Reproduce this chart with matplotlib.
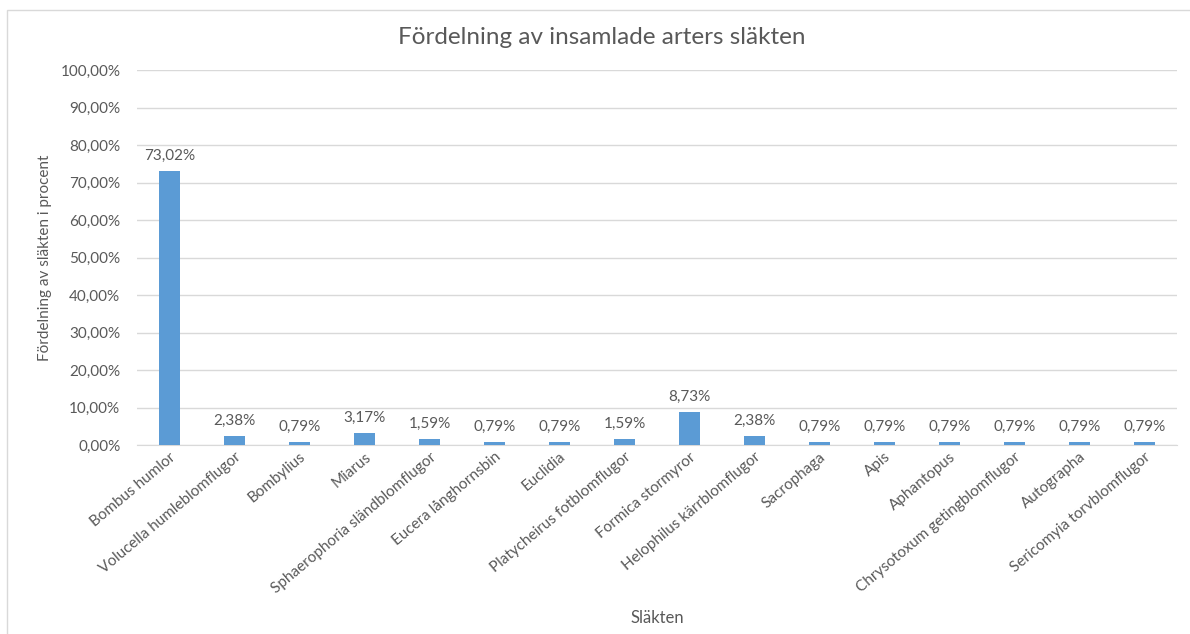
"""Bar chart: distribution of collected genera (Excel-style look)."""
import matplotlib
matplotlib.use("Agg")
import matplotlib.pyplot as plt
from matplotlib.patches import Rectangle
from matplotlib.ticker import FuncFormatter, MultipleLocator

genera = [
    "Bombus humlor", "Volucella humleblomflugor", "Bombylius", "Miarus",
    "Sphaerophoria sländblomflugor", "Eucera långhornsbin", "Euclidia",
    "Platycheirus fotblomflugor", "Formica stormyror",
    "Helophilus kärrblomflugor", "Sacrophaga", "Apis", "Aphantopus",
    "Chrysotoxum getingblomflugor", "Autographa", "Sericomyia torvblomflugor",
]
shares = [73.02, 2.38, 0.79, 3.17, 1.59, 0.79, 0.79, 1.59, 8.73, 2.38,
          0.79, 0.79, 0.79, 0.79, 0.79, 0.79]

TEXT = "#595959"
GRID = "#d9d9d9"
BAR = "#5b9bd5"

plt.rcParams["font.family"] = ["Lato", "DejaVu Sans"]

fig = plt.figure(figsize=(11.9, 6.34), dpi=100)
fig.patches.append(Rectangle((7 / 1190, -0.1), 1.2, 1 - 10 / 634 + 0.1,
                             transform=fig.transFigure, fill=False,
                             edgecolor=GRID, linewidth=1.0))
ax = fig.add_axes([137 / 1190, 1 - 445 / 634, 1040 / 1190, 375 / 634])

x = range(len(genera))
vals = [v / 100 for v in shares]
ax.bar(x, vals, width=0.32, color=BAR, zorder=3)
for xi, v in zip(x, shares):
    ax.annotate(f"{v:.2f}%".replace(".", ","), (xi, v / 100),
                xytext=(0, 6), textcoords="offset points",
                ha="center", va="bottom", fontsize=11, color=TEXT)

ax.set_xlim(-0.5, len(genera) - 0.5)
ax.set_ylim(0, 1.0)
ax.yaxis.set_major_locator(MultipleLocator(0.1))
ax.yaxis.set_major_formatter(
    FuncFormatter(lambda v, _: f"{v * 100:.2f}%".replace(".", ",")))
ax.grid(axis="y", color=GRID, linewidth=1.0, zorder=0)
for side in ("top", "right", "left"):
    ax.spines[side].set_visible(False)
ax.spines["bottom"].set_color(GRID)
ax.tick_params(axis="both", length=0, colors=TEXT, labelsize=11)
ax.tick_params(axis="y", pad=12)

ax.set_xticks(list(x))
ax.set_xticklabels(genera, rotation=40, ha="right", va="top",
                   rotation_mode="anchor", fontsize=11, color=TEXT)

ax.set_ylabel("Fördelning av släkten i procent", fontsize=11, color=TEXT,
              labelpad=6)
ax.set_xlabel("Släkten", fontsize=12, color=TEXT, labelpad=10)
fig.text(602 / 1190, 1 - 38 / 634, "Fördelning av insamlade arters släkten",
         ha="center", va="center", fontsize=17.5, color=TEXT)

fig.savefig("out.png", dpi=100)
plt.close(fig)
